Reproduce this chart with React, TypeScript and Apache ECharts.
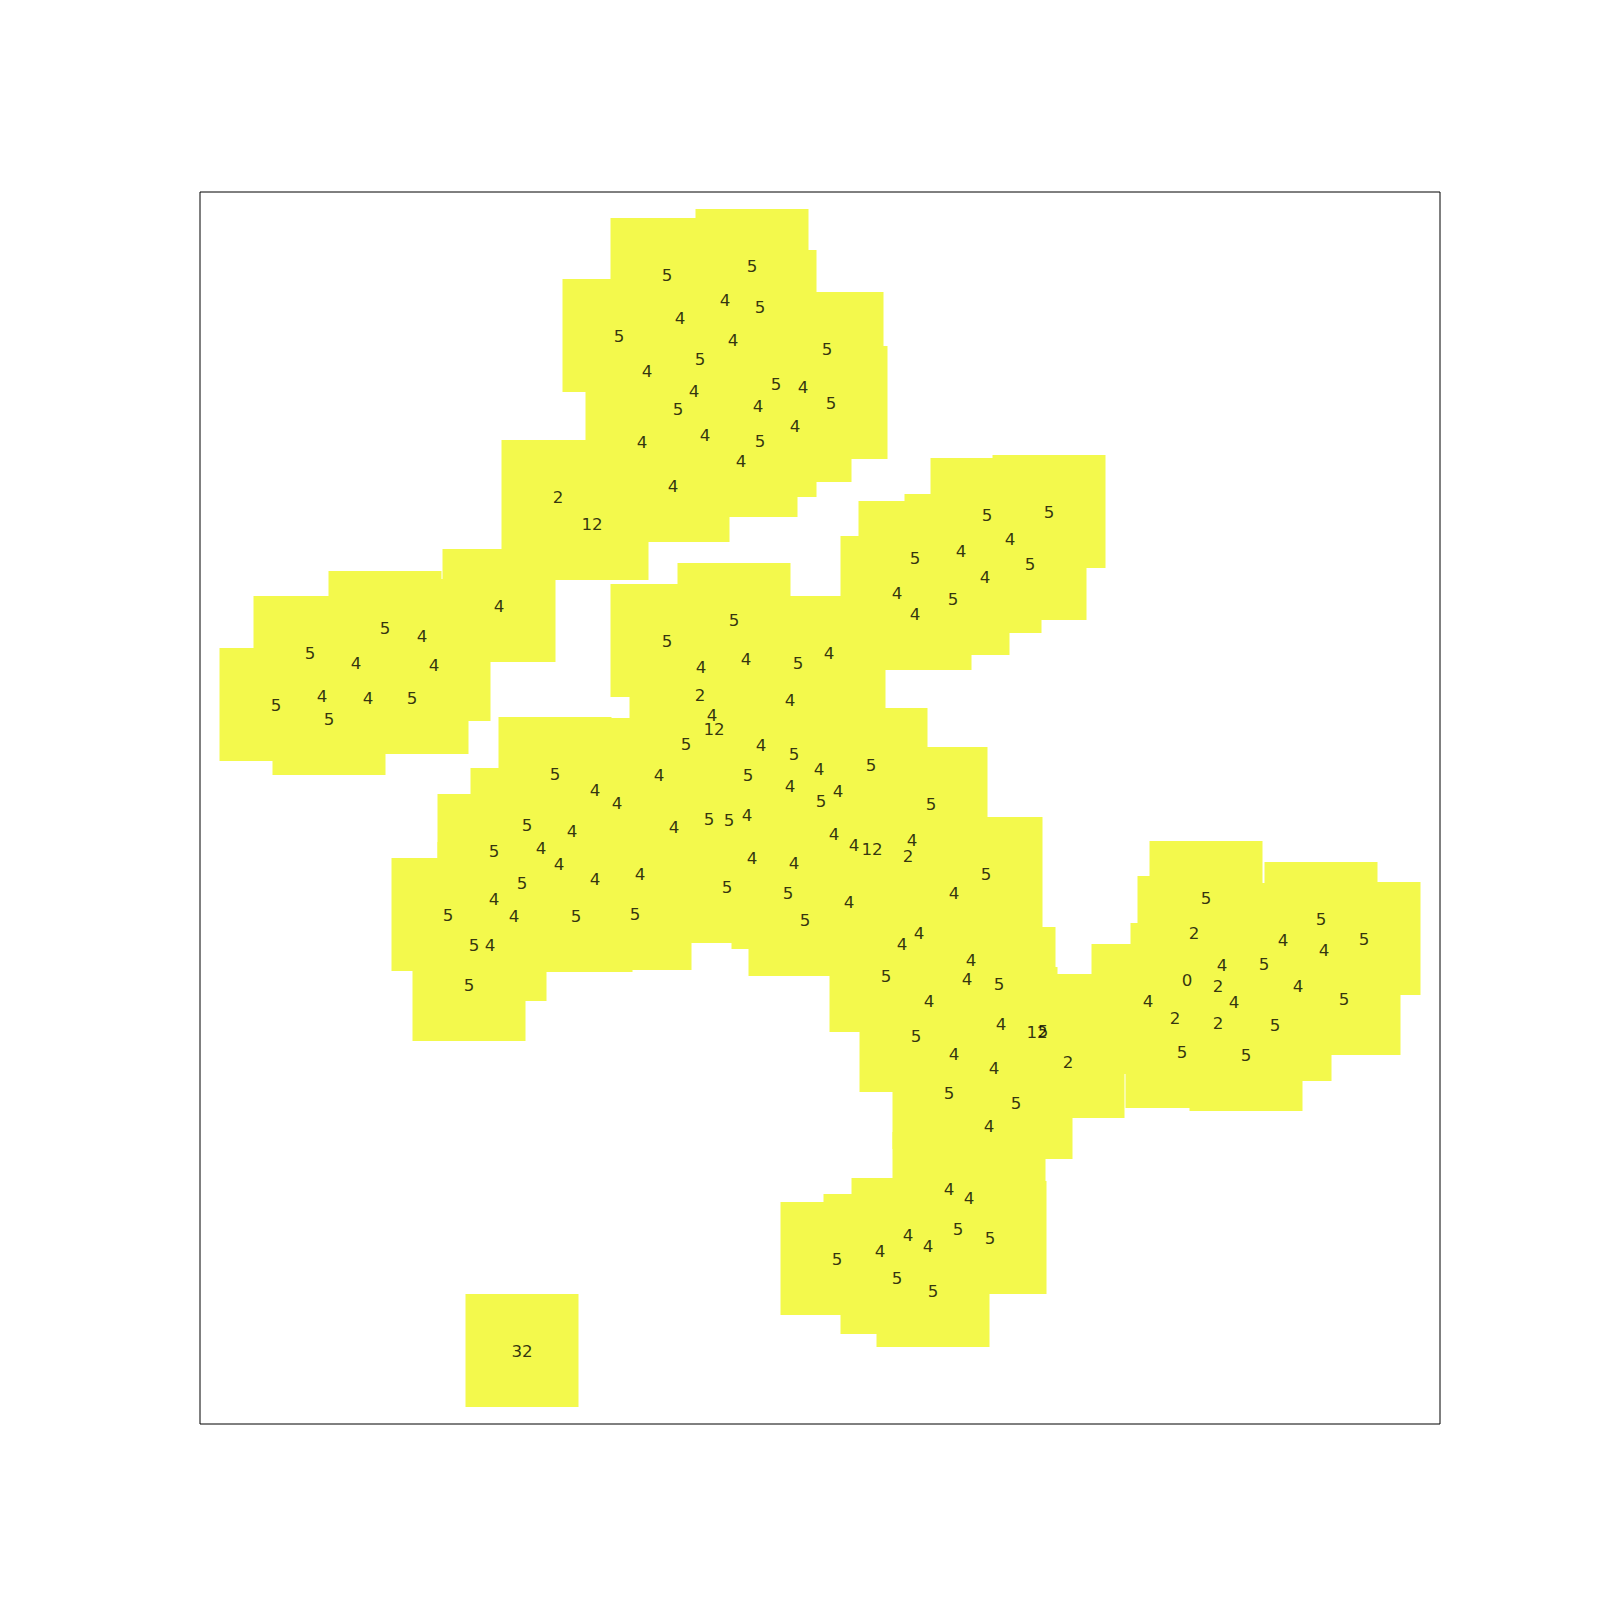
import React, { useEffect, useRef } from "react";
import * as echarts from "echarts";

// Embedding coordinates (data units) and point labels
const xs: number[] = [
  467, 552, 525, 560, 480, 419, 533, 627, 500, 447, 576, 603, 494, 631, 478, 558, 595, 442, 505, 560, 541, 473, 358, 392,
  787, 849, 810, 761, 715, 830, 785, 697, 753, 715,
  299, 185, 222, 110, 156, 234, 76, 122, 168, 212, 129,
  534, 467, 629, 546, 598, 501, 500, 590, 512, 514, 486, 561, 594, 619, 671, 459, 548, 590, 638, 621, 731, 417, 509, 529,
  547, 474, 634, 654, 672, 712, 708, 552, 594, 440, 786, 527, 588, 754, 649, 435, 605, 719, 702, 771, 686, 767, 799, 729,
  355, 395, 327, 372, 294, 341, 359, 322, 395, 294, 248, 314, 376, 274, 290, 269,
  1006, 994, 1121, 1083, 1164, 1124, 1022, 1064, 987, 1018, 1098, 1144, 948, 1034, 975, 1018, 1075, 982, 1046,
  801, 716, 754, 794, 749, 816, 789, 837, 843, 868,
  749, 769, 758, 790, 708, 728, 680, 637, 697, 733,
  322,
];

const ys: number[] = [
  1151, 1160, 1126, 1119, 1108, 1090, 1086, 1077, 1067, 1055, 1042, 1039, 1035, 1023, 1017, 1020, 1000, 984, 991, 985, 965, 940, 929, 902,
  911, 914, 887, 875, 868, 862, 849, 833, 827, 812,
  820, 798, 790, 773, 763, 761, 721, 730, 728, 728, 707,
  806, 785, 773, 767, 763, 759, 731, 726, 711, 697, 682, 681, 672, 657, 661, 651, 651, 640, 635, 625, 622, 623, 607, 606,
  611, 599, 592, 581, 577, 586, 570, 568, 563, 552, 552, 539, 533, 533, 524, 512, 506, 493, 482, 466, 450, 447, 442, 425,
  652, 636, 601, 595, 575, 578, 562, 543, 547, 527, 511, 510, 510, 481, 481, 441,
  528, 493, 507, 486, 487, 476, 461, 462, 446, 440, 440, 427, 425, 424, 408, 403, 401, 374, 371,
  402, 390, 372, 358, 333, 323, 300, 394, 395, 364,
  237, 228, 197, 188, 191, 180, 175, 167, 148, 135,
  75,
];

const labels: number[] = [
  5, 5, 4, 5, 4, 5, 4, 5, 5, 4, 5, 4, 4, 5, 5, 4, 4, 4, 4, 5, 4, 4, 2, 12,
  5, 5, 4, 4, 5, 5, 4, 4, 5, 4,
  4, 5, 4, 5, 4, 4, 5, 4, 4, 5, 5,
  5, 5, 4, 4, 5, 4, 2, 4, 4, 12, 5, 4, 5, 4, 5, 4, 5, 4, 4, 5, 5, 4, 5, 5,
  4, 4, 4, 4, 12, 4, 2, 4, 4, 4, 5, 5, 5, 4, 4, 5, 5, 4, 4, 4, 5, 4, 5, 4,
  5, 4, 5, 4, 5, 4, 4, 5, 4, 4, 5, 4, 5, 5, 4, 5,
  5, 2, 5, 4, 5, 4, 4, 5, 0, 2, 4, 5, 4, 4, 2, 2, 5, 5, 5,
  4, 5, 4, 4, 5, 5, 4, 12, 5, 2,
  4, 4, 5, 5, 4, 4, 4, 5, 5, 5,
  32,
];

const xRange = [0, 1240];
const yRange = [1.5, 1233.5];

export default function App() {
  const ref = useRef<HTMLDivElement>(null);

  useEffect(() => {
    if (!ref.current) return;
    const chart = echarts.init(ref.current, undefined, { renderer: "svg" });
    const data = xs.map((x, i) => [x, ys[i], labels[i]]);
    chart.setOption({
      animation: false,
      backgroundColor: "#ffffff",
      grid: {
        left: 200,
        top: 192,
        width: 1240,
        height: 1232,
        show: true,
        borderColor: "#000000",
        borderWidth: 1,
        backgroundColor: "transparent",
        z: 10,
      },
      xAxis: {
        type: "value",
        min: xRange[0],
        max: xRange[1],
        axisLine: { show: false },
        axisTick: { show: false },
        axisLabel: { show: false },
        splitLine: { show: false },
      },
      yAxis: {
        type: "value",
        min: yRange[0],
        max: yRange[1],
        axisLine: { show: false },
        axisTick: { show: false },
        axisLabel: { show: false },
        splitLine: { show: false },
      },
      series: [
        {
          type: "scatter",
          data,
          symbol: "rect",
          symbolSize: 113,
          itemStyle: { color: "#f3f94c", opacity: 1 },
          label: { show: false },
          silent: true,
          z: 2,
        },
        {
          type: "scatter",
          data,
          symbol: "rect",
          symbolSize: 1,
          itemStyle: { color: "rgba(0,0,0,0)" },
          label: {
            show: true,
            position: "inside",
            formatter: (p: any) => String(p.value[2]),
            color: "#000000",
            textBorderWidth: 0,
            fontFamily: "DejaVu Sans",
            fontSize: 16.7,
          },
          labelLayout: { hideOverlap: false },
          silent: true,
          z: 5,
        },
      ],
    });
    return () => chart.dispose();
  }, []);

  return (
    <div
      ref={ref}
      style={{ position: "absolute", left: 0, top: 0, width: 1600, height: 1600 }}
    />
  );
}
